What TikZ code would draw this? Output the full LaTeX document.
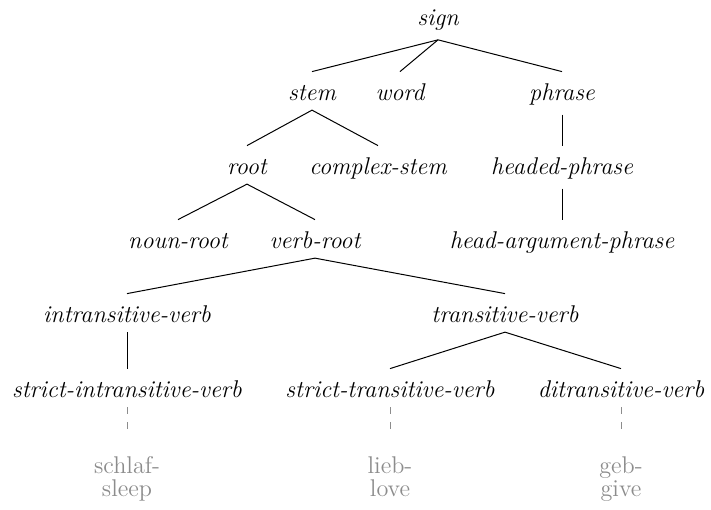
\documentclass[tikz,border=0pt]{standalone}
\usepackage{tikz}
\usetikzlibrary{positioning}

\begin{document}
\begin{tikzpicture}[
    x=0.5pt, y=-0.5pt,
    cat/.style={font=\fontsize{12.1}{11.5}\selectfont\itshape, anchor=base,
                text height=9.25pt, inner xsep=0pt, inner ysep=4.75pt},
    gloss/.style={font=\fontsize{12.1}{11.5}\selectfont, text=black!45, anchor=north,
                  align=center, inner xsep=0pt, inner ysep=10pt},
    edge/.style={line width=0.5pt},
    link/.style={black!45, line width=0.4pt, dash pattern=on 3.5pt off 4pt}
  ]
    \useasboundingbox (0,0) rectangle (711,509);

    % type hierarchy
    \node[cat] (sign) at (438,25) {sign};
    \node[cat] (stem) at (312,100) {stem};
    \node[cat] (word) at (400,100) {word};
    \node[cat] (phrase) at (562,100) {phrase};
    \node[cat] (root) at (247,174) {root};
    \node[cat] (cstem) at (378,174) {complex-stem};
    \node[cat] (hphrase) at (562,174) {headed-phrase};
    \node[cat] (nroot) at (178,248) {noun-root};
    \node[cat] (vroot) at (315,248) {verb-root};
    \node[cat] (haphrase) at (562,248) {head-argument-phrase};
    \node[cat] (iverb) at (127,322) {intransitive-verb};
    \node[cat] (tverb) at (505,322) {transitive-verb};
    \node[cat] (siverb) at (127,397) {strict-intransitive-verb};
    \node[cat] (stverb) at (390,397) {strict-transitive-verb};
    \node[cat] (dverb) at (621,397) {ditransitive-verb};

    % lexical entries
    \node[gloss] (gsleep) at (127,436) {schlaf-\\sleep};
    \node[gloss] (glove) at (390,436) {lieb-\\love};
    \node[gloss] (ggive) at (621,436) {geb-\\give};

    \foreach \a/\b in {sign/stem, sign/word, sign/phrase, stem/root, stem/cstem,
                       phrase/hphrase, root/nroot, root/vroot, hphrase/haphrase,
                       vroot/iverb, vroot/tverb, iverb/siverb, tverb/stverb, tverb/dverb}
      \draw[edge] (\a.south) -- (\b.north);

    \foreach \a/\b in {siverb/gsleep, stverb/glove, dverb/ggive}
      \draw[link] (\a.south) -- (\b.north);
  \end{tikzpicture}
\end{document}
